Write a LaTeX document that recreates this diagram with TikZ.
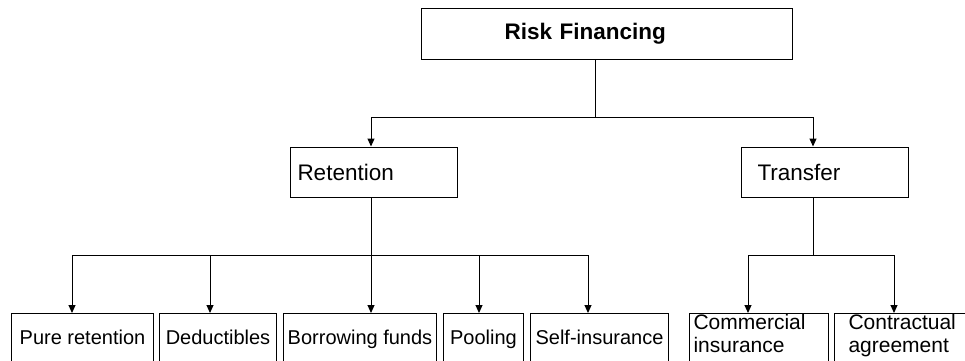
\documentclass[tikz,border=0pt]{standalone}
\usepackage{fontspec}
\setmainfont{Liberation Sans}
\usetikzlibrary{arrows.meta,positioning}

\begin{document}
\begin{tikzpicture}[x=1pt, y=-1pt, line width=1pt,
  box/.style={draw, rectangle, inner ysep=0pt, anchor=north west, align=left, minimum height=51pt},
  mid/.style={box, font=\fontsize{22.5}{26}\selectfont},
  leaf/.style={box, inner xsep=0pt, align=center, minimum height=50pt, text height=15pt, text depth=3pt, font=\fontsize{20}{22}\selectfont},
  twoline/.style={box, draw=none, inner xsep=4pt, minimum height=46pt, font=\fontsize{21}{23}\selectfont},
  link/.style={-{Triangle[length=8pt,width=7pt]}}]
\useasboundingbox (0,0) rectangle (965,360);
\clip (0,0) rectangle (965,360);

% top
\node[mid, font=\bfseries\fontsize{22.5}{26}\selectfont, inner xsep=83pt, text width=205pt] (rf) at (421,8) {Risk Financing};

% second level
\node[mid, inner xsep=7pt, text width=153pt, minimum height=50.5pt] (ret) at (290,146.5) {Retention};
\node[mid, inner xsep=16pt, text width=135pt, minimum height=50.5pt] (tr) at (741,146.5) {Transfer};

% retention methods
\node[leaf, minimum width=142pt] (pure) at (11,313) {Pure retention};
\node[leaf, minimum width=117pt] (deduct) at (159,313) {Deductibles};
\node[leaf, minimum width=153pt] (borrow) at (283,313) {Borrowing funds};
\node[leaf, minimum width=80pt] (pool) at (443,313) {Pooling};
\node[leaf, minimum width=138pt] (self) at (530,313) {Self-insurance};

% transfer methods (boxes run past the lower edge)
\node[twoline, text width=130pt] (comm) at (689,313) {Commercial\strut\\insurance\strut};
\node[twoline, inner xsep=14pt, text width=108pt] (contr) at (834,313) {Contractual\strut\\agreement\strut};
\foreach \n in {comm,contr}
  \draw (\n.north west) ++(0,60) |- (\n.north east) -- ++(0,60);

% junctions
\coordinate (j0) at (595,117);
\coordinate (c1) at (371,117);
\coordinate (c2) at (813,117);
\coordinate (j1) at (371,255);
\coordinate (j2) at (813,255);
\coordinate (a1) at (72,255);
\coordinate (a2) at (210,255);
\coordinate (a4) at (479,255);
\coordinate (a5) at (588,255);
\coordinate (b1) at (748,255);
\coordinate (b2) at (894,255);

\draw (rf.south -| j0) -- (j0);
\draw (c1) -- (c2);
\draw[link] (c1) -- (c1 |- ret.north);
\draw[link] (c2) -- (c2 |- tr.north);

\draw (ret.south -| j1) -- (j1);
\draw (a1) -- (a5);
\foreach \a/\n in {a1/pure, a2/deduct, j1/borrow, a4/pool, a5/self}
  \draw[link] (\a) -- (\a |- \n.north);

\draw (tr.south -| j2) -- (j2);
\draw (b1) -- (b2);
\draw[link] (b1) -- (b1 |- comm.north);
\draw[link] (b2) -- (b2 |- contr.north);
\end{tikzpicture}
\end{document}
